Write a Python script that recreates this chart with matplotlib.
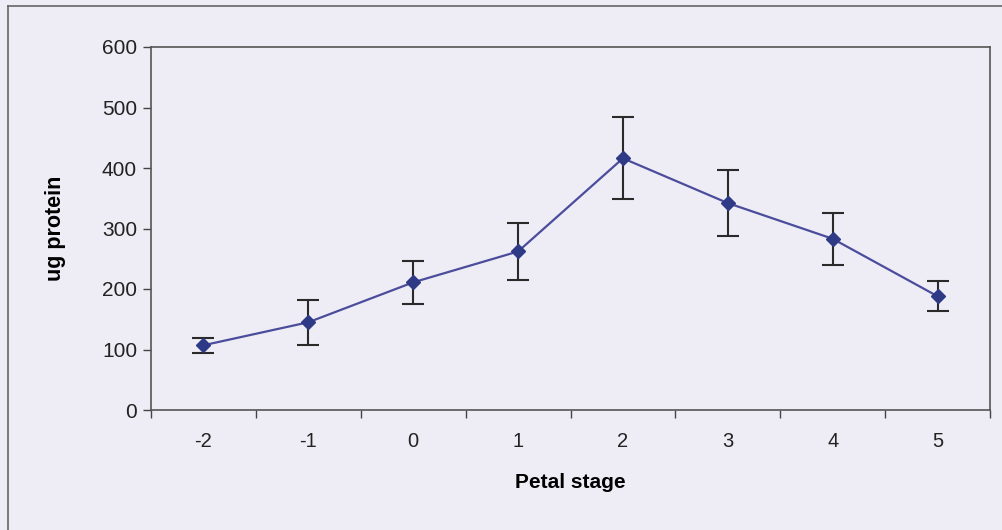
import numpy as np
import matplotlib
matplotlib.use("Agg")
import matplotlib.pyplot as plt
from matplotlib.ticker import FixedLocator

# data
stages = ["-2", "-1", "0", "1", "2", "3", "4", "5"]
protein = [107, 145, 211, 262, 416, 342, 283, 188]
protein_err = [12, 37, 35, 47, 68, 55, 43, 25]

BG = "#eeedf5"
plt.rcParams["font.family"] = ["Liberation Sans", "DejaVu Sans"]

fig = plt.figure(figsize=(10.02, 5.3), dpi=100, facecolor=BG)

ax = fig.add_axes([151 / 1002, 120 / 530, 839 / 1002, 363 / 530])
ax.set_facecolor("none")

x = np.arange(len(stages))
ax.errorbar(x, protein, yerr=protein_err, color="#4b4c9c", lw=1.6,
            marker="D", ms=7.5, mfc="#2f3a86", mec="#2f3a86",
            ecolor="#2a2a2a", elinewidth=1.5, capsize=8, capthick=1.5, zorder=3)

ax.set_xlim(-0.5, len(stages) - 0.5)
ax.set_ylim(0, 600)
ax.set_yticks(range(0, 601, 100))
ax.set_xticks(x)
ax.set_xticklabels(stages)
ax.xaxis.set_minor_locator(FixedLocator(np.arange(-0.5, len(stages), 1)))
ax.tick_params(axis="x", which="major", length=0, pad=16, labelsize=14.5, colors="#222222")
ax.tick_params(axis="x", which="minor", length=6, width=1, color="#444444", direction="out")
ax.tick_params(axis="y", length=6, width=1, color="#444444", labelsize=15, pad=4,
               labelcolor="#222222")

for s in ax.spines.values():
    s.set_color("#555555")
    s.set_linewidth(1.2)

ax.set_ylabel("ug protein", fontsize=15.5, fontweight="bold", labelpad=26)
ax.set_xlabel("Petal stage", fontsize=15, fontweight="bold", labelpad=16)

# outer chart border (left and top edge of the chart area)
fig.add_artist(plt.Line2D([8 / 1002, 8 / 1002], [0.0, 1 - 6 / 530], transform=fig.transFigure,
                          color="#666666", lw=1.2))
fig.add_artist(plt.Line2D([8 / 1002, 1.0], [1 - 6 / 530, 1 - 6 / 530], transform=fig.transFigure,
                          color="#666666", lw=1.2))

fig.savefig("out.png", dpi=100, facecolor=BG)
